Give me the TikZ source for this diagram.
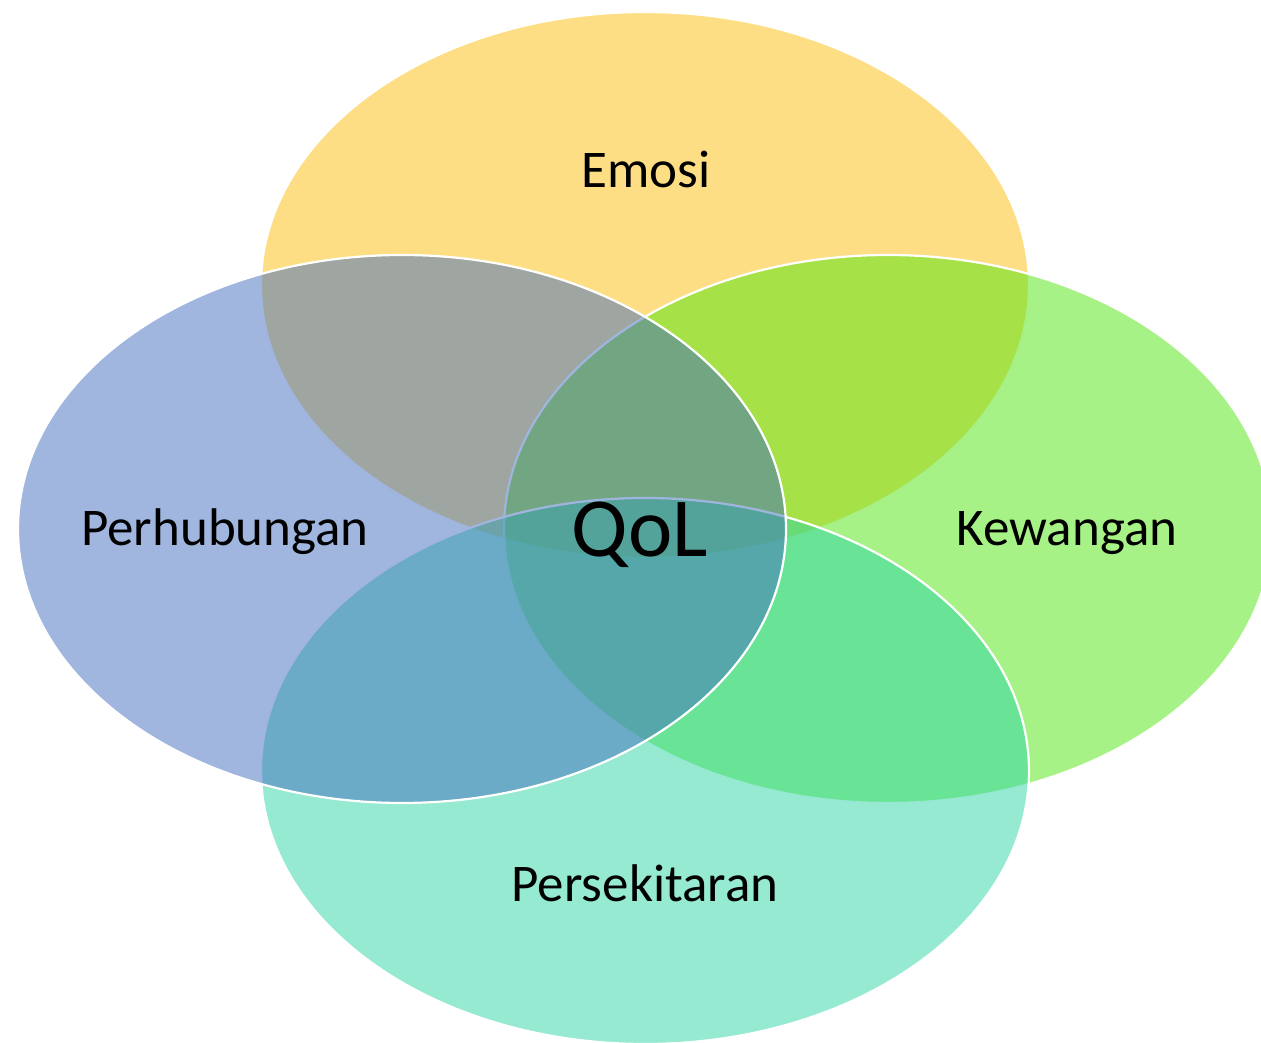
\documentclass[tikz,border=0pt]{standalone}
\usepackage{fontspec}
\setmainfont{Carlito}
\definecolor{cEmosi}{RGB}{253,189,9}
\definecolor{cPerh}{RGB}{65,109,191}
\definecolor{cKew}{RGB}{79,229,13}
\definecolor{cPers}{RGB}{45,213,165}
\begin{document}
\begin{tikzpicture}[x=1pt,y=1pt,
  blob/.style={fill=#1, fill opacity=0.5, draw=white, line width=2.2pt},
  lbl/.style={font=\fontsize{53}{60}\selectfont, anchor=base, inner sep=0pt, text=black}]
\useasboundingbox (0,0) rectangle (1261,1043);
\clip (0,0) rectangle (1261,1043);
% image y -> 1043 - y
\fill[blob=cEmosi] (645,758) ellipse [x radius=384pt, y radius=273pt];
\fill[blob=cKew] (888,514) ellipse [x radius=384pt, y radius=274pt];
\fill[blob=cPers] (645,272) ellipse [x radius=384pt, y radius=273pt];
\fill[blob=cPerh] (402,514) ellipse [x radius=384pt, y radius=274pt];
\node[lbl] (emosi) at (646,855) {Emosi};
\node[lbl] (perh) at (225,497) {Perhubungan};
\node[lbl] (kew) at (1067,497) {Kewangan};
\node[lbl] (pers) at (645,141) {Persekitaran};
\node[lbl, font=\fontsize{84}{96}\selectfont] (qol) at (640,486) {QoL};
\end{tikzpicture}
\end{document}
